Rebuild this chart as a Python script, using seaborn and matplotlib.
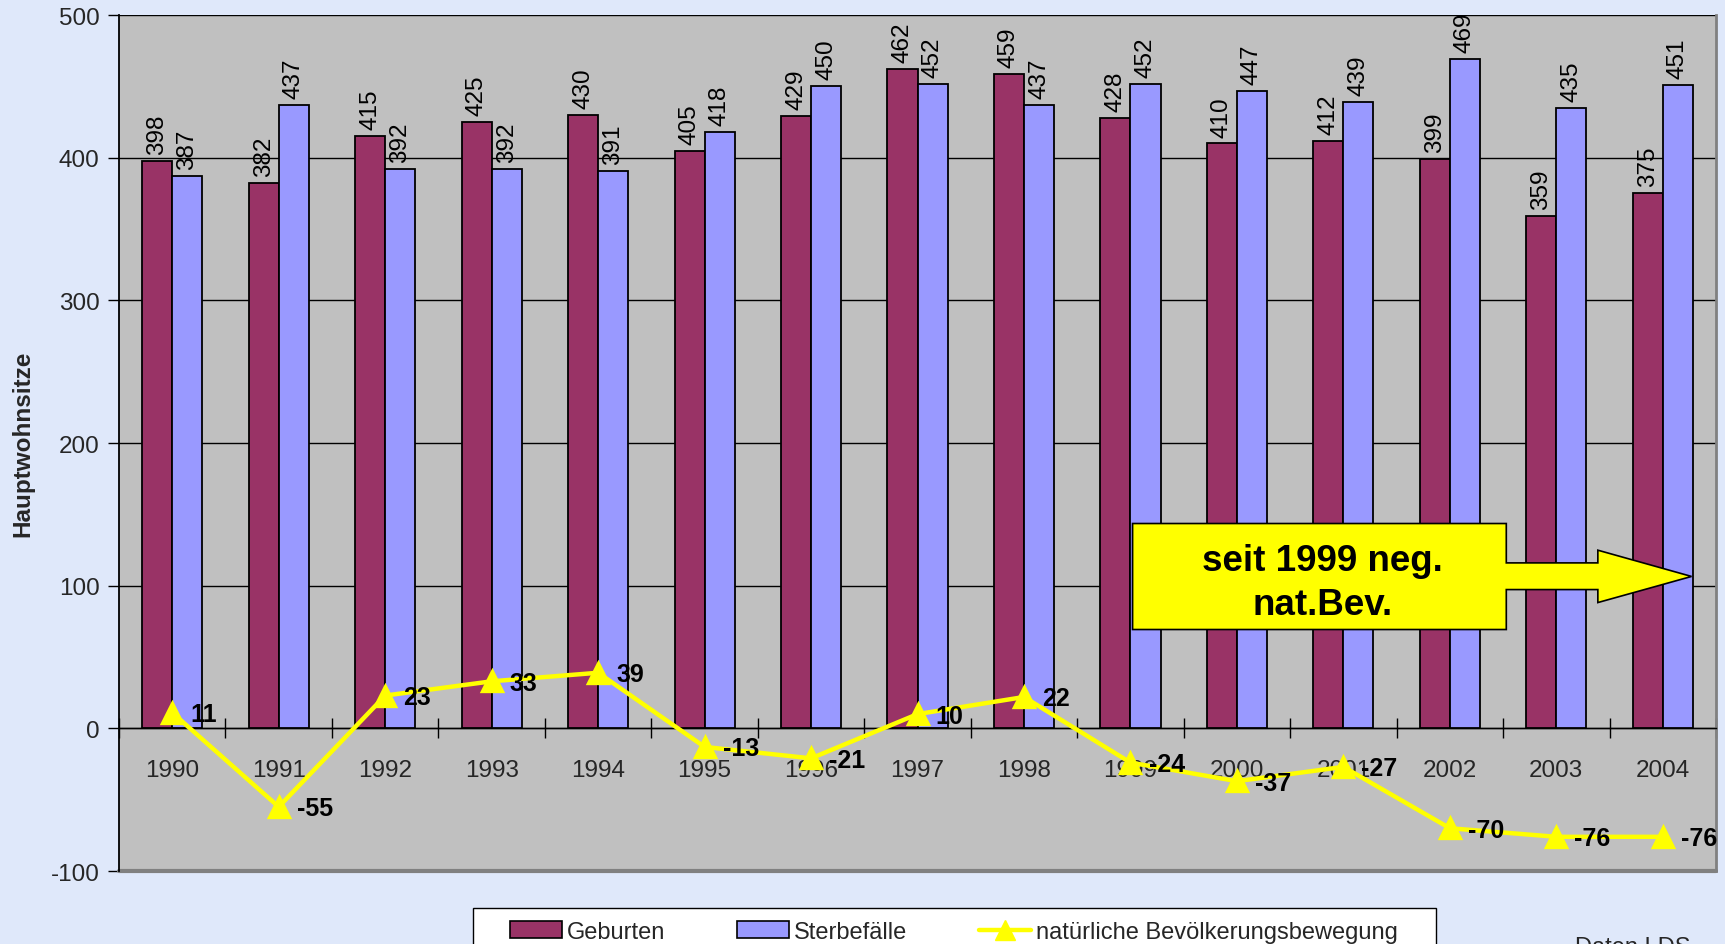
import matplotlib
matplotlib.use("Agg")
import matplotlib.pyplot as plt
import seaborn as sns
import pandas as pd
from matplotlib.patches import Patch, Polygon, Rectangle
from matplotlib.lines import Line2D
from matplotlib.ticker import FixedLocator, NullFormatter

years = ["1990", "1991", "1992", "1993", "1994", "1995", "1996", "1997",
         "1998", "1999", "2000", "2001", "2002", "2003", "2004"]
geburten = [398, 382, 415, 425, 430, 405, 429, 462, 459, 428, 410, 412, 399, 359, 375]
sterbefaelle = [387, 437, 392, 392, 391, 418, 450, 452, 437, 452, 447, 439, 469, 435, 451]
nat_bew = [11, -55, 23, 33, 39, -13, -21, 10, 22, -24, -37, -27, -70, -76, -76]

series_names = ["Geburten", "Sterbefälle", "natürliche Bevölkerungsbewegung"]
colors = ["#993366", "#9999FF", "#FFFF00"]

sns.set_theme(style="white")
plt.rcParams["font.family"] = ["Liberation Sans", "DejaVu Sans"]
plt.rcParams["axes.unicode_minus"] = False

df_bars = pd.DataFrame({
    "Jahr": years * 2,
    "Wert": geburten + sterbefaelle,
    "Serie": [series_names[0]] * len(years) + [series_names[1]] * len(years),
})
df_line = pd.DataFrame({"Jahr": years, "Wert": nat_bew})

fig = plt.figure(figsize=(17.25, 9.45), dpi=100, facecolor="#DFE8FA")
ax = fig.add_axes([0.069, 0.0772, 0.9258, 0.9058])
ax.set_facecolor("#C0C0C0")

sns.barplot(data=df_bars, x="Jahr", y="Wert", hue="Serie", order=years,
            hue_order=series_names[:2], palette=colors[:2], width=0.565,
            edgecolor="black", linewidth=1.3, saturation=1, ax=ax,
            legend=False, zorder=3)

for cont in ax.containers:
    ax.bar_label(cont, rotation=90, padding=5, fontsize=17.5, color="black", zorder=4)

sns.pointplot(data=df_line, x="Jahr", y="Wert", order=years, color=colors[2],
              markers="^", markersize=15, linewidth=3.2, errorbar=None, ax=ax,
              zorder=6)

for i, v in enumerate(nat_bew):
    ax.annotate(str(v), (i, v), xytext=(13, -1), textcoords="offset points",
                ha="left", va="center", fontsize=18, fontweight="bold",
                color="black", zorder=7)

ax.set_ylim(-100, 500)
ax.set_xlim(-0.5, len(years) - 0.5)
ax.set_yticks(range(-100, 501, 100))
ax.yaxis.grid(True, color="black", linewidth=1)
ax.set_axisbelow(True)
ax.tick_params(axis="y", which="major", direction="out", length=8, width=1,
               color="black", labelsize=17.5, pad=6, left=True)

ax.spines["bottom"].set_position(("data", 0))
ax.spines["bottom"].set_color("black")
ax.spines["bottom"].set_linewidth(1)
ax.spines["left"].set_color("black")
ax.spines["left"].set_linewidth(1.3)
ax.spines["top"].set_visible(False)
ax.spines["right"].set_color("#808080")
ax.spines["right"].set_linewidth(2)
ax.axhline(-100, color="#808080", linewidth=3, zorder=1, clip_on=False)

ax.xaxis.set_major_locator(FixedLocator([i - 0.5 for i in range(len(years) + 1)]))
ax.xaxis.set_major_formatter(NullFormatter())
ax.set_xticks(range(len(years)), labels=years, minor=True)
ax.tick_params(axis="x", which="major", direction="inout", length=14, width=1,
               color="black", bottom=True)
ax.tick_params(axis="x", which="minor", length=0, labelsize=17.5, pad=22)

ax.set_xlabel("")
ax.set_ylabel("Hauptwohnsitze", fontsize=17.5, fontweight="bold")
ax.yaxis.set_label_coords(-0.053, 0.5)

# callout arrow
shape = [(9.02, 143.6), (12.53, 143.6), (12.53, 116), (13.39, 116), (13.39, 124.9),
         (14.27, 106.5), (13.39, 88.2), (13.39, 97.3), (12.53, 97.3), (12.53, 69.3),
         (9.02, 69.3)]
ax.add_patch(Polygon(shape, closed=True, facecolor="#FFFF00", edgecolor="black",
                     linewidth=1.2, zorder=8, transform=ax.transData))
ax.text(10.8, 102, "seit 1999 neg.\nnat.Bev.", ha="center", va="center",
        fontsize=26.5, fontweight="bold", color="black", linespacing=1.33, zorder=9)

# legend frame (extends past the bottom edge, as in the reference)
fig.patches.append(Rectangle((473 / 1725, -0.05), (1436 - 473) / 1725, 0.05 + 36 / 945,
                             transform=fig.transFigure, facecolor="white",
                             edgecolor="black", linewidth=1, zorder=1))

handles = [
    Patch(facecolor=colors[0], edgecolor="black", linewidth=1.2),
    Patch(facecolor=colors[1], edgecolor="black", linewidth=1.2),
    Line2D([0], [0], color=colors[2], linewidth=3.2, marker="^", markersize=15),
]
leg = fig.legend(handles, series_names, loc="upper left",
                 bbox_to_anchor=(510 / 1725, 1 - 922 / 945), ncol=3,
                 fontsize=17, frameon=False, handlelength=2.2,
                 handletextpad=0.2, columnspacing=3.05, borderpad=0.5,
                 borderaxespad=0)
leg.set_zorder(2)
leg._legend_box.pad = 0

fig.text(1575 / 1725, 1 - 937 / 945, "Daten LDS", ha="left", va="top", fontsize=17)

fig.savefig("out.png", dpi=100, facecolor=fig.get_facecolor())
